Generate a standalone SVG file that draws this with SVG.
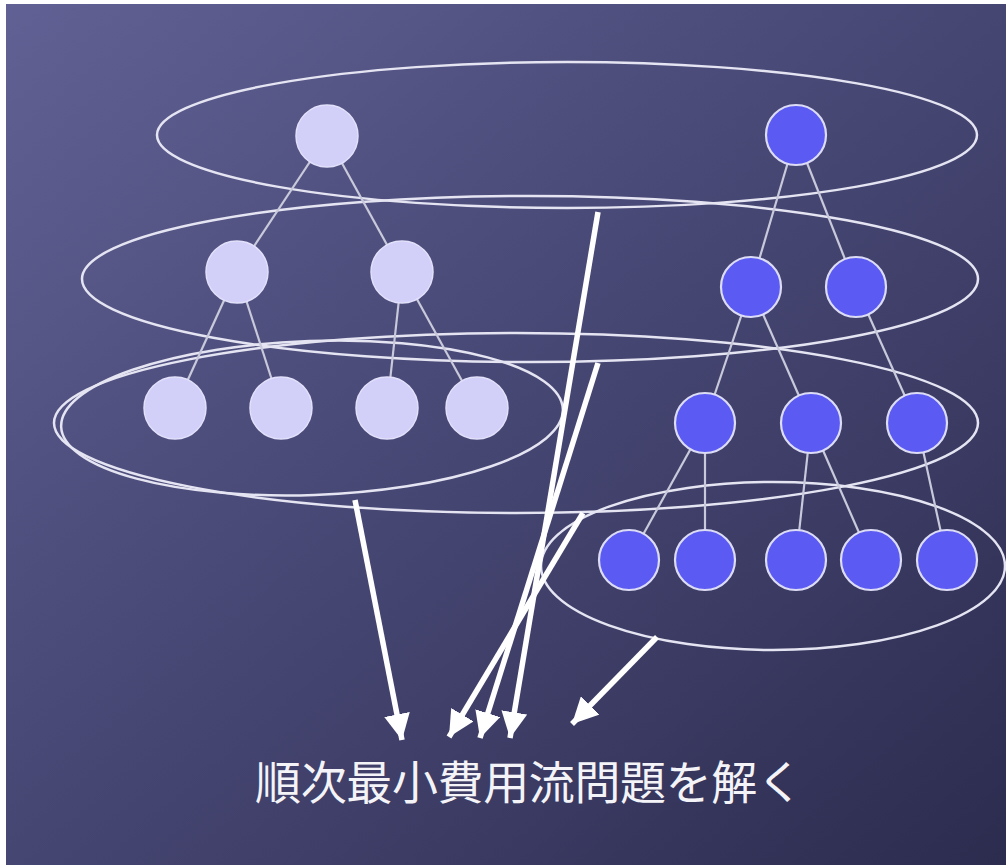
<svg xmlns="http://www.w3.org/2000/svg" width="1006" height="865" viewBox="0 0 1006 865">
  <defs>
    <linearGradient id="bg" x1="0" y1="0" x2="1" y2="1">
      <stop offset="0" stop-color="#616195"/>
      <stop offset="0.5" stop-color="#464673"/>
      <stop offset="1" stop-color="#2c2c4f"/>
    </linearGradient>
    <marker id="ah" markerUnits="userSpaceOnUse" markerWidth="28" markerHeight="26" refX="26" refY="13" orient="auto">
      <path d="M0,0 L26,13 L0,26 Z" fill="#ffffff"/>
    </marker>
    <style>
      .grp { fill: none; stroke: #e4e4f2; stroke-width: 2.5; }
      .edge { stroke: #c9c9dc; stroke-width: 2.2; }
      .lt { fill: #d2cff8; stroke: #e2e0fb; stroke-width: 1.5; }
      .bl { fill: #5b5bf4; stroke: #dcdcf6; stroke-width: 2.2; }
      .arr { stroke: #ffffff; stroke-width: 5.5; fill: none; marker-end: url(#ah); }
      .label { font-family: "Noto Sans CJK JP", "Noto Sans CJK SC", sans-serif; font-size: 46px; fill: #f4f4f8; }
    </style>
  </defs>

  <rect x="0" y="0" width="1006" height="865" fill="url(#bg)"/>
  <rect x="0" y="0" width="1006" height="4" fill="#ffffff"/>
  <rect x="0" y="0" width="6" height="865" fill="#ffffff"/>

  <g id="groups">
    <ellipse class="grp" cx="567" cy="135" rx="410" ry="73"/>
    <ellipse class="grp" cx="530" cy="279" rx="448" ry="83"/>
    <ellipse class="grp" cx="516" cy="423" rx="462" ry="90"/>
    <ellipse class="grp" cx="312" cy="418" rx="251" ry="77" transform="rotate(-2 312 418)"/>
    <ellipse class="grp" cx="773" cy="566" rx="232" ry="84"/>
  </g>

  <g id="tree-edges">
    <line class="edge" x1="327" y1="136" x2="237" y2="272"/>
    <line class="edge" x1="327" y1="136" x2="402" y2="272"/>
    <line class="edge" x1="237" y1="272" x2="175" y2="408"/>
    <line class="edge" x1="237" y1="272" x2="281" y2="408"/>
    <line class="edge" x1="402" y1="272" x2="387" y2="408"/>
    <line class="edge" x1="402" y1="272" x2="477" y2="408"/>

    <line class="edge" x1="796" y1="135" x2="751" y2="287"/>
    <line class="edge" x1="796" y1="135" x2="856" y2="287"/>
    <line class="edge" x1="751" y1="287" x2="705" y2="423"/>
    <line class="edge" x1="751" y1="287" x2="811" y2="423"/>
    <line class="edge" x1="856" y1="287" x2="917" y2="423"/>
    <line class="edge" x1="705" y1="423" x2="629" y2="560"/>
    <line class="edge" x1="705" y1="423" x2="705" y2="560"/>
    <line class="edge" x1="811" y1="423" x2="796" y2="560"/>
    <line class="edge" x1="811" y1="423" x2="871" y2="560"/>
    <line class="edge" x1="917" y1="423" x2="947" y2="560"/>
  </g>

  <g id="left-tree">
    <g id="l-root"><circle class="lt" cx="327" cy="136" r="31"/></g>
    <g id="l-a"><circle class="lt" cx="237" cy="272" r="31"/></g>
    <g id="l-b"><circle class="lt" cx="402" cy="272" r="31"/></g>
    <g id="l-aa"><circle class="lt" cx="175" cy="408" r="31"/></g>
    <g id="l-ab"><circle class="lt" cx="281" cy="408" r="31"/></g>
    <g id="l-ba"><circle class="lt" cx="387" cy="408" r="31"/></g>
    <g id="l-bb"><circle class="lt" cx="477" cy="408" r="31"/></g>
  </g>

  <g id="right-tree">
    <g id="r-root"><circle class="bl" cx="796" cy="135" r="30"/></g>
    <g id="r-a"><circle class="bl" cx="751" cy="287" r="30"/></g>
    <g id="r-b"><circle class="bl" cx="856" cy="287" r="30"/></g>
    <g id="r-aa"><circle class="bl" cx="705" cy="423" r="30"/></g>
    <g id="r-ab"><circle class="bl" cx="811" cy="423" r="30"/></g>
    <g id="r-bb"><circle class="bl" cx="917" cy="423" r="30"/></g>
    <g id="r-aaa"><circle class="bl" cx="629" cy="560" r="30"/></g>
    <g id="r-aab"><circle class="bl" cx="705" cy="560" r="30"/></g>
    <g id="r-aba"><circle class="bl" cx="796" cy="560" r="30"/></g>
    <g id="r-abb"><circle class="bl" cx="871" cy="560" r="30"/></g>
    <g id="r-bba"><circle class="bl" cx="947" cy="560" r="30"/></g>
  </g>

  <g id="connectors">
    <line class="arr" x1="355" y1="500" x2="402" y2="740"/>
    <line class="arr" x1="598" y1="212" x2="510" y2="738"/>
    <line class="arr" x1="598" y1="363" x2="480" y2="738"/>
    <line class="arr" x1="583" y1="513" x2="449" y2="737"/>
    <line class="arr" x1="657" y1="637" x2="572" y2="724"/>
  </g>

  <g id="caption">
    <text class="label" x="255" y="799" textLength="548" lengthAdjust="spacing">順次最小費用流問題を解く</text>
  </g>
</svg>
